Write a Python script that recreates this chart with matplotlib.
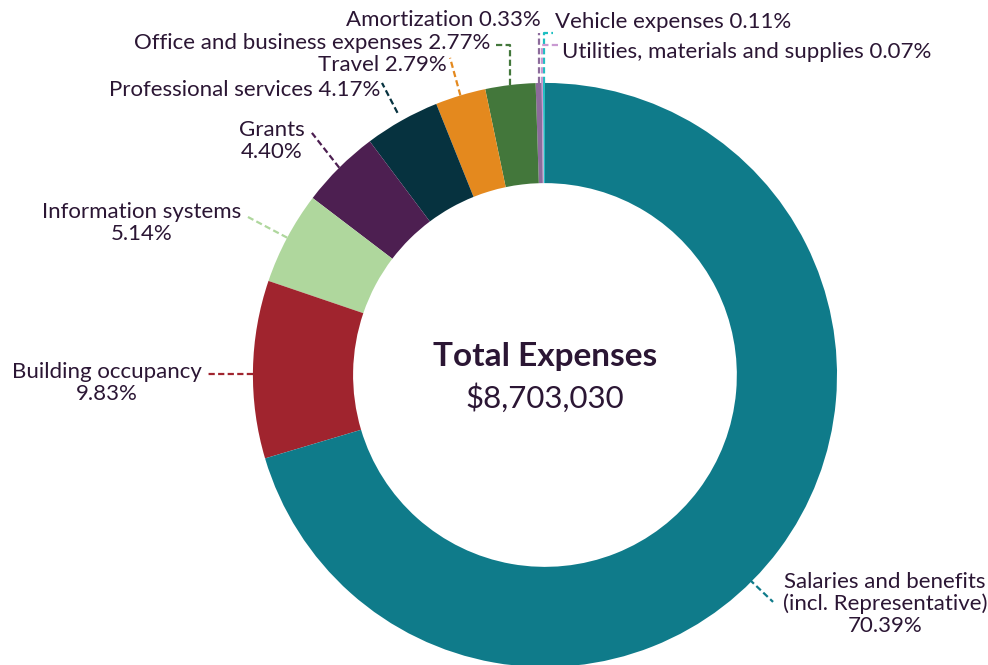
import numpy as np
import matplotlib.pyplot as plt

plt.rcParams['font.family'] = ['Lato', 'DejaVu Sans']

# expense categories, listed counter-clockwise from 12 o'clock
categories = ["Vehicle expenses", "Utilities, materials and supplies", "Amortization",
              "Office and business expenses", "Travel", "Professional services",
              "Grants", "Information systems", "Building occupancy",
              "Salaries and benefits\n(incl. Representative)"]
shares = [0.11, 0.07, 0.33, 2.77, 2.79, 4.17, 4.40, 5.14, 9.83, 70.39]
colors = ["#1dbfc1", "#c99ad2", "#8c6b9b", "#43773b", "#e4891e", "#06323f",
          "#4d1f51", "#afd79d", "#a0242e", "#0f7b8a"]
total = "$8,703,030"

txt = "#2b1634"

fig = plt.figure(figsize=(9.88, 6.65), dpi=100)
ax = fig.add_axes([0, 0, 1, 1])

wedges, _ = ax.pie(shares, colors=colors, startangle=90, counterclock=True,
                   radius=1.0, wedgeprops=dict(width=0.343, linewidth=0))

ax.set_xlim(-1.866, 1.517)
ax.set_ylim(-0.993, 1.284)
ax.set_aspect('auto')
ax.axis('off')

# mid angle of each wedge
mids = [(w.theta1 + w.theta2) / 2 for w in wedges]

def edge(angle, r=1.0):
    a = np.radians(angle)
    return r * np.cos(a), r * np.sin(a)

def leader(points, color):
    xs, ys = zip(*points)
    ax.plot(xs, ys, color=color, lw=1.6, dashes=(2.8, 1.5), solid_capstyle='butt')

fs = 16
label = {}
for name, val in zip(categories, shares):
    label[name] = f"{val:.2f}%"

# top cluster: elbow leaders
x0, y0 = edge(mids[0])
leader([(x0, y0), (x0, 1.171), (0.027, 1.171)], colors[0])
ax.text(0.034, 1.209, f"Vehicle expenses {label[categories[0]]}", color=txt,
        fontsize=fs, ha='left', va='center')

x1, y1 = edge(mids[1])
leader([(x1, y1), (x1, 1.130), (0.051, 1.130)], colors[1])
ax.text(0.058, 1.106, f"Utilities, materials and supplies {label[categories[1]]}",
        color=txt, fontsize=fs, ha='left', va='center')

x2, y2 = edge(mids[2])
leader([(x2, y2), (x2, 1.171)], colors[2])
ax.text(-0.014, 1.216, f"Amortization {label[categories[2]]}", color=txt,
        fontsize=fs, ha='right', va='center')

x3, y3 = edge(mids[3])
leader([(x3, y3), (x3, 1.130), (-0.178, 1.130)], colors[3])
ax.text(-0.188, 1.137, f"Office and business expenses {label[categories[3]]}",
        color=txt, fontsize=fs, ha='right', va='center')

# straight leaders
leader([edge(mids[4]), (-0.325, 1.086)], colors[4])
ax.text(-0.336, 1.062, f"Travel {label[categories[4]]}", color=txt,
        fontsize=fs, ha='right', va='center')

leader([edge(mids[5], 1.03), (-0.558, 1.0)], colors[5])
ax.text(-0.562, 0.976, f"Professional services {label[categories[5]]}", color=txt,
        fontsize=fs, ha='right', va='center')

leader([edge(mids[6]), (-0.798, 0.829)], colors[6])
ax.text(-0.935, 0.801, f"Grants\n{label[categories[6]]}", color=txt,
        fontsize=fs, ha='center', va='center', linespacing=1.1)

leader([edge(mids[7]), (-1.017, 0.541)], colors[7])
ax.text(-1.380, 0.521, f"Information systems\n{label[categories[7]]}", color=txt,
        fontsize=fs, ha='center', va='center', linespacing=1.1)

bx, by = edge(179.8)
leader([(bx, by), (-1.154, by)], colors[8])
ax.text(-1.5, -0.027, f"Building occupancy\n{label[categories[8]]}", color=txt,
        fontsize=fs, ha='center', va='center', linespacing=1.1)

leader([edge(315, 0.99), (0.781, -0.777)], colors[9])
ax.text(1.164, -0.784, f"{categories[9]}\n{label[categories[9]]}", color=txt,
        fontsize=fs, ha='center', va='center', linespacing=1.1)

# centre caption
ax.text(0.0, 0.065, "Total Expenses", color=txt, fontsize=24, fontweight='bold',
        ha='center', va='center')
ax.text(0.0, -0.079, total, color=txt, fontsize=22.5, ha='center', va='center')

fig.savefig("out.png", dpi=100)
